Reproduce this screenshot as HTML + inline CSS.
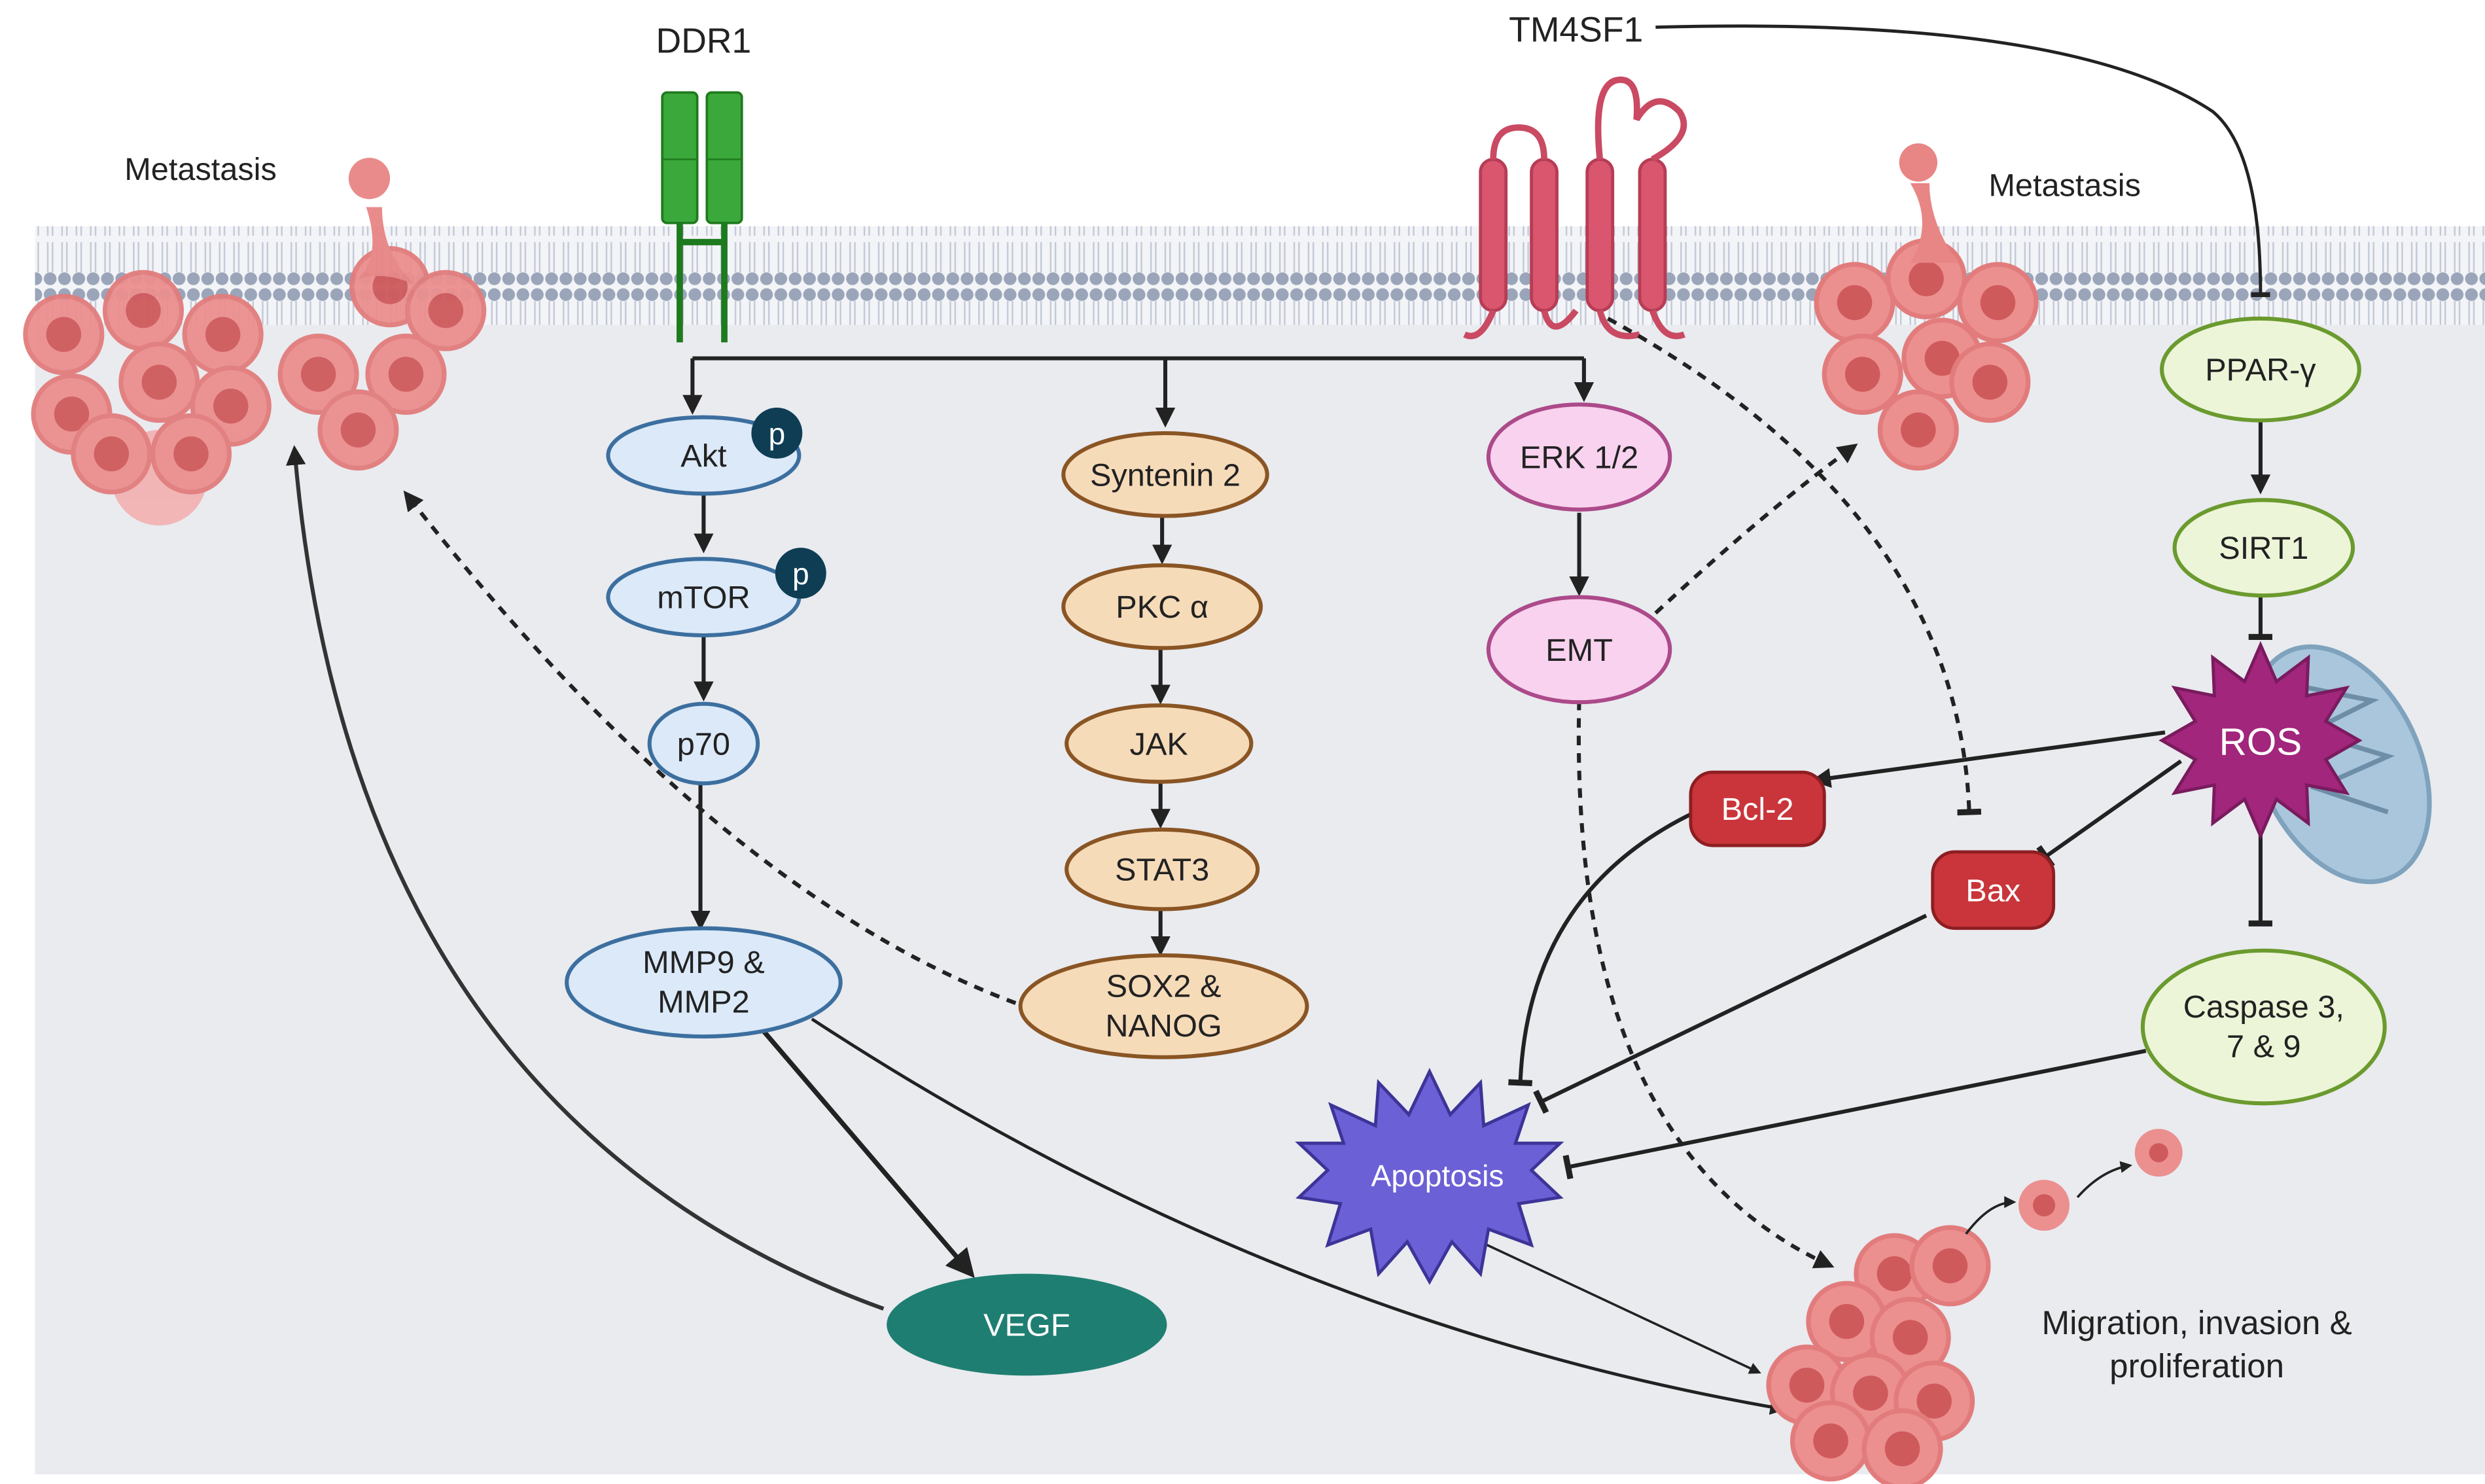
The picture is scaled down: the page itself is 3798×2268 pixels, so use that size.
<!DOCTYPE html>
<html><head><meta charset="utf-8"><style>
html,body{margin:0;padding:0;background:#fff;}
svg{display:block;}
text{font-family:"Liberation Sans",sans-serif;}
</style></head><body>
<svg width="3798" height="2268" viewBox="0 0 1561 932" xmlns="http://www.w3.org/2000/svg">
<defs>
<marker id="ar" viewBox="0 0 10 10" refX="8" refY="5" markerWidth="5" markerHeight="5" orient="auto"><path d="M0,0L10,5L0,10z" fill="#222"/></marker>
<marker id="arB" viewBox="0 0 10 10" refX="8" refY="5" markerWidth="6" markerHeight="6" orient="auto"><path d="M0,0L10,5L0,10z" fill="#222"/></marker>
<marker id="tb" viewBox="0 0 10 10" refX="5" refY="5" markerWidth="6" markerHeight="6" orient="auto"><path d="M5,0L5,10" stroke="#222" stroke-width="2.5"/></marker>
<pattern id="dots" width="9" height="60" patternUnits="userSpaceOnUse">
<circle cx="4.5" cy="5" r="4" fill="#9aa5ba"/><circle cx="4.5" cy="55" r="4" fill="#9aa5ba"/>
<line x1="3" y1="9" x2="3" y2="28" stroke="#c3c9d6" stroke-width="1"/><line x1="6" y1="9" x2="6" y2="28" stroke="#c3c9d6" stroke-width="1"/>
<line x1="3" y1="32" x2="3" y2="51" stroke="#c3c9d6" stroke-width="1"/><line x1="6" y1="32" x2="6" y2="51" stroke="#c3c9d6" stroke-width="1"/>
</pattern>
<g id="cell"><circle r="24" fill="#ec8f8f" stroke="#e27c7c" stroke-width="3"/><circle r="11" fill="#cf5a5c"/></g>
</defs>
<rect x="22" y="150" width="1539" height="776" fill="#e9ebef"/>
<rect x="22" y="142" width="1539" height="62" fill="#f3f4f7"/>
<rect x="22" y="142" width="1539" height="62" fill="url(#dots)"/>

<!-- left metastasis cluster -->
<g opacity="0.95">
<circle cx="100" cy="300" r="30" fill="#f2b3b3"/>
<use href="#cell" x="40" y="210"/><use href="#cell" x="90" y="195"/><use href="#cell" x="140" y="210"/>
<use href="#cell" x="45" y="260"/><use href="#cell" x="100" y="240"/><use href="#cell" x="145" y="255"/>
<use href="#cell" x="70" y="285"/><use href="#cell" x="120" y="285"/>
<use href="#cell" x="200" y="235"/><use href="#cell" x="255" y="235"/><use href="#cell" x="245" y="180"/>
<use href="#cell" x="225" y="270"/><use href="#cell" x="280" y="195"/>
<path d="M230,130 Q240,160 225,175 Q245,170 262,180 Q240,160 240,130z" fill="#e88585"/>
<circle cx="232" cy="112" r="13" fill="#e88585"/>
</g>
<text x="126" y="113" font-size="20" text-anchor="middle" fill="#222">Metastasis</text>

<!-- DDR1 -->
<text x="442" y="33" font-size="22" text-anchor="middle" fill="#222">DDR1</text>
<g fill="#3aa83a" stroke="#1e7a1e" stroke-width="1.5">
<rect x="416" y="58" width="22" height="82" rx="3"/><rect x="444" y="58" width="22" height="82" rx="3"/>
</g>
<path d="M416,100H438M444,100H466" stroke="#1e7a1e"/>
<path d="M427,140V215M455,140V215M427,152H455" stroke="#1e7a1e" stroke-width="4" fill="none"/>

<!-- TM4SF1 -->
<text x="990" y="26" font-size="22" text-anchor="middle" fill="#222">TM4SF1</text>
<g fill="#d9566e" stroke="#b63d55" stroke-width="2">
<rect x="930" y="100" width="16" height="95" rx="8"/><rect x="962" y="100" width="16" height="95" rx="8"/>
<rect x="997" y="100" width="16" height="95" rx="8"/><rect x="1030" y="100" width="16" height="95" rx="8"/>
</g>
<path d="M938,100 Q938,80 954,80 Q970,80 970,100 M1005,100 Q1000,50 1018,50 Q1030,50 1028,75 Q1040,55 1055,70 Q1065,85 1038,100 M938,195 Q930,215 920,210 M970,195 Q975,215 990,195 M1005,195 Q1010,215 1030,210 M1038,195 Q1045,215 1058,210" fill="none" stroke="#c94a62" stroke-width="4"/>
<path d="M1040,17 Q1300,10 1390,70 Q1420,95 1420,185" fill="none" stroke="#222" stroke-width="2" marker-end="url(#tb)"/>

<!-- right metastasis -->
<g>
<use href="#cell" x="1165" y="190"/><use href="#cell" x="1210" y="175"/><use href="#cell" x="1255" y="190"/>
<use href="#cell" x="1170" y="235"/><use href="#cell" x="1220" y="225"/><use href="#cell" x="1250" y="240"/><use href="#cell" x="1205" y="270"/>
<path d="M1200,115 Q1215,140 1200,165 L1230,165 Q1212,140 1212,115z" fill="#e88585"/>
<circle cx="1205" cy="102" r="12" fill="#e88585"/>
</g>
<text x="1297" y="123" font-size="20" text-anchor="middle" fill="#222">Metastasis</text>

<!-- main branch -->
<path d="M435,225H995" stroke="#222" stroke-width="2.5" fill="none"/>
<g stroke="#222" stroke-width="2.5" fill="none" marker-end="url(#ar)">
<path d="M435,225V258"/><path d="M732,225V266"/><path d="M995,225V250"/>
<path d="M442,311V345"/><path d="M442,400V438"/><path d="M440,493V582"/>
<path d="M730,325V352"/><path d="M729,407V440"/><path d="M729,491V518"/><path d="M729,571V598"/>
<path d="M992,322V372"/><path d="M1420,265V308"/>
</g>

<!-- dashed -->
<g stroke="#222" stroke-width="2.5" fill="none" stroke-dasharray="6,5">
<path d="M638,630 Q450,560 255,310" marker-end="url(#ar)"/>
<path d="M1040,385 Q1110,320 1165,280" marker-end="url(#ar)"/>
<path d="M992,440 Q985,720 1150,795" marker-end="url(#ar)"/>
<path d="M1010,200 Q1230,320 1237,510" marker-end="url(#tb)"/>
</g>

<!-- solid long arrows -->
<path d="M555,822 Q220,700 185,282" stroke="#333" stroke-width="2.5" fill="none" marker-end="url(#ar)"/>
<path d="M480,648 L610,800" stroke="#222" stroke-width="3" fill="none" marker-end="url(#arB)"/>
<path d="M510,640 Q800,830 1120,885" stroke="#222" stroke-width="2" fill="none" marker-end="url(#ar)"/>
<path d="M930,780 L1105,862" stroke="#222" stroke-width="1.5" fill="none" marker-end="url(#ar)"/>
<path d="M1360,460 L1140,490" stroke="#222" stroke-width="2.5" fill="none" marker-end="url(#ar)"/>
<path d="M1370,478 L1285,538" stroke="#222" stroke-width="2.5" fill="none" marker-end="url(#tb)"/>
<path d="M1420,370V400" stroke="#222" stroke-width="2.5" fill="none" marker-end="url(#tb)"/>
<path d="M1420,520V580" stroke="#222" stroke-width="2.5" fill="none" marker-end="url(#tb)"/>
<path d="M1065,510 Q960,560 955,680" stroke="#222" stroke-width="2.5" fill="none" marker-end="url(#tb)"/>
<path d="M1210,575 L968,692" stroke="#222" stroke-width="2.5" fill="none" marker-end="url(#tb)"/>
<path d="M1348,660 L985,733" stroke="#222" stroke-width="2.5" fill="none" marker-end="url(#tb)"/>

<!-- blue nodes -->
<g fill="#dbe9f8" stroke="#3c6f9f" stroke-width="2.5">
<ellipse cx="442" cy="286" rx="60" ry="24"/><ellipse cx="442" cy="375" rx="60" ry="24"/>
<ellipse cx="442" cy="467" rx="34" ry="25"/><ellipse cx="442" cy="617" rx="86" ry="34"/>
</g>
<circle cx="488" cy="272" r="16" fill="#0e3d54"/><circle cx="503" cy="360" r="16" fill="#0e3d54"/>
<g font-size="20" fill="#222" text-anchor="middle">
<text x="442" y="293">Akt</text><text x="442" y="382">mTOR</text><text x="442" y="474">p70</text>
<text x="442" y="611">MMP9 &amp;</text><text x="442" y="636">MMP2</text>
</g>
<g font-size="19" fill="#fff" text-anchor="middle"><text x="488" y="279">p</text><text x="503" y="367">p</text></g>

<!-- orange nodes -->
<g fill="#f6dbb9" stroke="#8a5524" stroke-width="2.5">
<ellipse cx="732" cy="298" rx="64" ry="26"/><ellipse cx="730" cy="381" rx="62" ry="26"/>
<ellipse cx="728" cy="467" rx="58" ry="24"/><ellipse cx="730" cy="546" rx="60" ry="25"/>
<ellipse cx="731" cy="632" rx="90" ry="32"/>
</g>
<g font-size="20" fill="#222" text-anchor="middle">
<text x="732" y="305">Syntenin 2</text><text x="730" y="388">PKC α</text><text x="728" y="474">JAK</text>
<text x="730" y="553">STAT3</text><text x="731" y="626">SOX2 &amp;</text><text x="731" y="651">NANOG</text>
</g>

<!-- pink -->
<g fill="#f8d2ee" stroke="#ac4a8a" stroke-width="2.5">
<ellipse cx="992" cy="287" rx="57" ry="33"/><ellipse cx="992" cy="408" rx="57" ry="33"/>
</g>
<g font-size="20" fill="#222" text-anchor="middle"><text x="992" y="294">ERK 1/2</text><text x="992" y="415">EMT</text></g>

<!-- green -->
<g fill="#ecf5d8" stroke="#6b9a2e" stroke-width="2.5">
<ellipse cx="1420" cy="232" rx="62" ry="32"/><ellipse cx="1422" cy="344" rx="56" ry="30"/>
<ellipse cx="1422" cy="645" rx="76" ry="48"/>
</g>
<g font-size="20" fill="#222" text-anchor="middle"><text x="1420" y="239">PPAR-γ</text><text x="1422" y="351">SIRT1</text>
<text x="1422" y="639">Caspase 3,</text><text x="1422" y="664">7 &amp; 9</text></g>

<!-- mitochondrion + ROS -->
<ellipse cx="1470" cy="480" rx="50" ry="78" transform="rotate(-25 1470 480)" fill="#a9c6dc" stroke="#7fa2bd" stroke-width="3"/>
<path d="M1440,430 L1490,440 L1450,460 L1500,475 L1455,495 L1500,510" fill="none" stroke="#6e8ea8" stroke-width="3"/>
<polygon fill="#a1267c" stroke="#7a1b5e" stroke-width="2" points="1420,405 1430,428 1450,413 1449,437 1474,432 1461,453 1482,465 1461,477 1474,498 1449,493 1450,517 1430,502 1420,525 1410,502 1390,517 1391,493 1366,498 1379,477 1358,465 1379,453 1366,432 1391,437 1390,413 1410,428"/>
<text x="1420" y="474" font-size="24" fill="#fff" text-anchor="middle">ROS</text>

<!-- Bcl2 Bax -->
<rect x="1062" y="485" width="84" height="46" rx="14" fill="#c9353a" stroke="#8d1e22" stroke-width="2"/>
<rect x="1214" y="535" width="76" height="48" rx="14" fill="#c9353a" stroke="#8d1e22" stroke-width="2"/>
<g font-size="20" fill="#fff" text-anchor="middle"><text x="1104" y="515">Bcl-2</text><text x="1252" y="566">Bax</text></g>

<!-- Apoptosis -->
<polygon fill="#6c60d6" stroke="#3d3498" stroke-width="2" points="898,673 911,700 930,680 932,707 960,694 952,718 980,718 962,735 980,752 954,756 962,782 935,772 930,800 912,780 898,805 884,780 866,800 861,772 834,782 842,756 816,752 834,735 816,718 844,718 836,694 864,707 866,680 885,700"/>
<text x="903" y="745" font-size="19" fill="#fff" text-anchor="middle">Apoptosis</text>

<!-- VEGF -->
<ellipse cx="645" cy="832" rx="88" ry="32" fill="#1f7e72"/>
<text x="645" y="839" font-size="20" fill="#fff" text-anchor="middle">VEGF</text>

<!-- migration cluster -->
<g>
<use href="#cell" x="1190" y="800"/><use href="#cell" x="1225" y="795"/><use href="#cell" x="1160" y="830"/>
<use href="#cell" x="1200" y="840"/><use href="#cell" x="1135" y="870"/><use href="#cell" x="1175" y="875"/>
<use href="#cell" x="1215" y="880"/><use href="#cell" x="1150" y="905"/><use href="#cell" x="1195" y="910"/>
<circle cx="1284" cy="757" r="16" fill="#ec8f8f"/><circle cx="1284" cy="757" r="7" fill="#cf5a5c"/>
<circle cx="1356" cy="724" r="15" fill="#ec8f8f"/><circle cx="1356" cy="724" r="6" fill="#cf5a5c"/>
</g>
<path d="M1235,775 Q1250,755 1265,755" stroke="#222" stroke-width="1.5" fill="none" marker-end="url(#ar)"/>
<path d="M1305,752 Q1320,735 1338,732" stroke="#222" stroke-width="1.5" fill="none" marker-end="url(#ar)"/>
<g font-size="21" fill="#222" text-anchor="middle"><text x="1380" y="838">Migration, invasion &amp;</text><text x="1380" y="865">proliferation</text></g>
</svg>
</body></html>
